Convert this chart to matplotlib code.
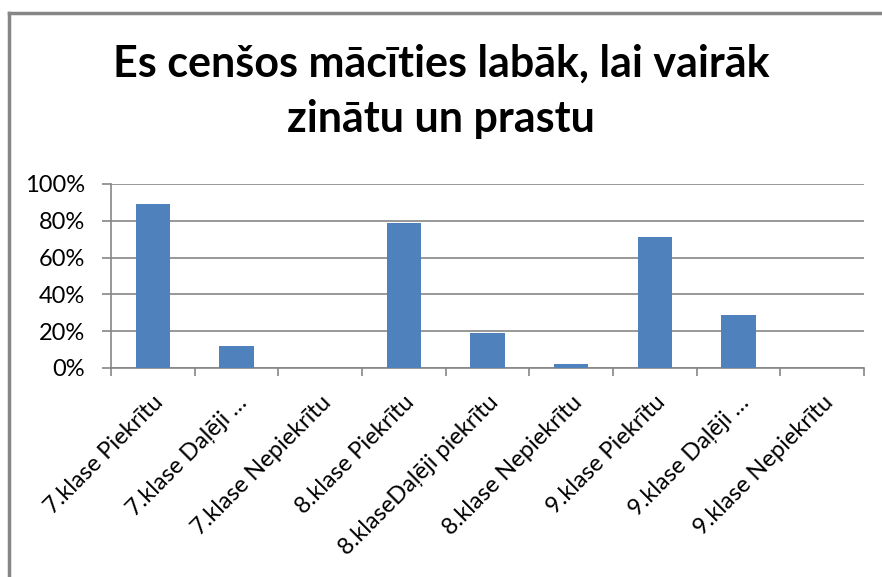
import matplotlib.pyplot as plt
import numpy as np
from matplotlib.lines import Line2D
from matplotlib.ticker import FixedLocator, PercentFormatter

plt.rcParams['font.family'] = ['Lato', 'DejaVu Sans']

# Data
categories = ["7.klase Piekrītu", "7.klase Daļēji …", "7.klase Nepiekrītu",
              "8.klase Piekrītu", "8.klaseDaļēji piekrītu", "8.klase Nepiekrītu",
              "9.klase Piekrītu", "9.klase Daļēji …", "9.klase Nepiekrītu"]
values = [89, 12, 0, 79, 19, 2, 71, 29, 0]
title_lines = ["Es cenšos mācīties labāk, lai vairāk", "zinātu un prastu"]

grid_col = '#868686'
bar_col = '#4F81BD'

fig = plt.figure(figsize=(8.82, 5.77), dpi=100)
ax = fig.add_axes([111/882, 1-368/577, (864-111)/882, (368-184)/577])

x = np.arange(len(categories))
ax.bar(x, values, width=0.41, color=bar_col, zorder=3)

ax.set_xlim(-0.5, len(categories) - 0.5)
ax.set_ylim(0, 100)
ax.yaxis.set_major_locator(FixedLocator([0, 20, 40, 60, 80, 100]))
ax.yaxis.set_major_formatter(PercentFormatter(decimals=0))
ax.grid(axis='y', color=grid_col, linewidth=1.2, zorder=0)

# category labels centred, tick marks on category boundaries
ax.set_xticks(x)
ax.set_xticklabels(categories, rotation=45, ha='right', rotation_mode='anchor', fontsize=17)
ax.tick_params(axis='x', which='major', length=0, pad=17)
ax.set_xticks(np.arange(-0.5, len(categories)), minor=True)
ax.tick_params(axis='x', which='minor', length=6, width=1.2, color=grid_col, direction='out')
ax.tick_params(axis='y', length=6.5, width=1.2, color=grid_col, labelsize=17, pad=12)

for s in ['top', 'right']:
    ax.spines[s].set_visible(False)
for s in ['left', 'bottom']:
    ax.spines[s].set_color(grid_col)
    ax.spines[s].set_linewidth(1.2)

# two-line title, baselines placed separately
for line, base in zip(title_lines, [77, 132]):
    fig.text(0.5, 1 - base/577, line, ha='center', va='baseline', fontsize=31,
             fontweight='bold')

# outer chart frame (only top and left edges visible)
fig.add_artist(Line2D([9/882, 1], [1-13/577, 1-13/577], transform=fig.transFigure,
                      color=grid_col, linewidth=2.5))
fig.add_artist(Line2D([9/882, 9/882], [0, 1-13/577], transform=fig.transFigure,
                      color=grid_col, linewidth=2.5))

fig.savefig('out.png', dpi=100)
